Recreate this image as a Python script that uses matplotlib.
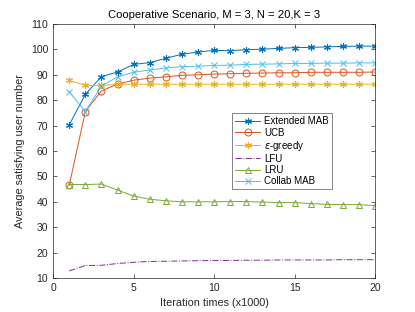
import numpy as np
import matplotlib
matplotlib.use("Agg")
import matplotlib.pyplot as plt

plt.rcParams["font.family"] = ["Liberation Sans", "DejaVu Sans"]

iters = list(range(1, 21))
ext_mab = [70.3, 82.3, 89.3, 91.1, 94.1, 94.8, 96.5, 98.1, 99.0, 99.6,
           99.5, 99.9, 100.1, 100.4, 100.7, 100.8, 101.0, 101.2, 101.3, 101.3]
ucb = [46.5, 75.5, 83.7, 86.3, 87.9, 88.7, 89.2, 89.8, 90.0, 90.3,
       90.4, 90.6, 90.7, 90.8, 90.8, 91.0, 91.0, 91.0, 91.0, 91.1]
eps_greedy = [87.8, 85.9, 85.8, 86.3, 86.3, 86.3, 86.3, 86.3, 86.3, 86.3,
              86.3, 86.3, 86.3, 86.3, 86.3, 86.3, 86.3, 86.3, 86.3, 86.3]
lfu = [12.8, 14.9, 15.0, 15.7, 16.2, 16.5, 16.6, 16.7, 16.8, 16.9,
       16.9, 17.0, 17.0, 17.1, 17.1, 17.1, 17.1, 17.2, 17.2, 17.2]
lru = [46.8, 46.8, 47.0, 44.6, 42.3, 41.0, 40.4, 40.0, 40.0, 40.0,
       40.1, 40.1, 39.9, 39.7, 39.7, 39.3, 39.0, 38.9, 38.9, 38.5]
collab_mab = [83.3, 75.5, 85.6, 89.2, 91.0, 91.9, 92.7, 93.2, 93.4, 93.7,
              93.8, 94.1, 94.2, 94.3, 94.5, 94.5, 94.6, 94.6, 94.7, 94.7]

fig = plt.figure(figsize=(4.15, 3.12), dpi=100)
ax = fig.add_axes([0.128, 0.109, 0.776, 0.814])

lw = 0.7
ms = 5
star = (6, 2, 0)  # asterisk like matlab '*'
ax.plot(iters, ext_mab, color="#0072BD", marker=star, lw=lw, ms=ms, mew=0.8, label="Extended MAB")
ax.plot(iters, ucb, color="#D95319", marker="o", mfc="none", lw=lw, ms=ms, mew=0.7, label="UCB")
ax.plot(iters, eps_greedy, color="#EDB120", marker=star, lw=lw, ms=ms, mew=0.8, label=r"$\epsilon$-greedy")
ax.plot(iters, lfu, color="#7E2F8E", ls="-.", lw=lw, label="LFU")
ax.plot(iters, lru, color="#77AC30", marker="^", mfc="none", lw=lw, ms=ms, mew=0.7, label="LRU")
ax.plot(iters, collab_mab, color="#4DBEEE", marker="x", lw=lw, ms=4, mew=0.7, label="Collab MAB")

ax.set_xlim(0, 20)
ax.set_ylim(10, 110)
ax.set_xticks([0, 5, 10, 15, 20])
ax.set_yticks(range(10, 111, 10))
ax.tick_params(direction="in", top=True, right=True, labelsize=7.5, colors="#262626",
               length=3, width=0.5)
for s in ax.spines.values():
    s.set_linewidth(0.5)
    s.set_color("#262626")

ax.set_title("Cooperative Scenario, M = 3, N = 20,K = 3", fontsize=8.1, pad=4)
ax.set_xlabel("Iteration times (x1000)", fontsize=7.8, color="#262626")
ax.set_ylabel("Average satisfying user number", fontsize=7.8, color="#262626")

leg = ax.legend(loc="lower left", bbox_to_anchor=(0.556, 0.35), fontsize=7,
                frameon=True, fancybox=False, edgecolor="#262626",
                handlelength=2.6, handletextpad=0.4, labelspacing=0.12,
                borderpad=0.3, borderaxespad=0)
leg.get_frame().set_linewidth(0.5)

fig.savefig("out.png", dpi=100)
